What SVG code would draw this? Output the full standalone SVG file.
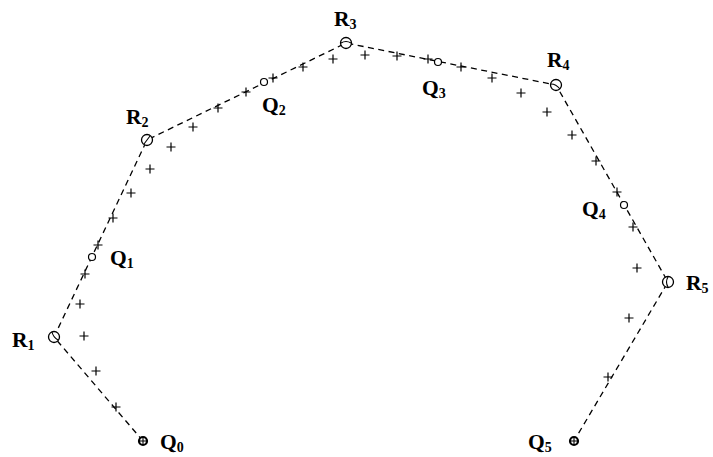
<svg xmlns="http://www.w3.org/2000/svg" width="713" height="457" viewBox="0 0 713 457">
<style>
  .conn { fill: none; stroke: #000; stroke-width: 1.3; stroke-dasharray: 6 4.5; }
  .rc { fill: #fff; stroke: #000; stroke-width: 1.3; }
  .qc { fill: #fff; stroke: #000; stroke-width: 1.2; }
  .ec { fill: #fff; stroke: #000; stroke-width: 2.2; }
  .in { fill: none; stroke: #000; stroke-width: 1.1; }
  .plus { stroke: #000; stroke-width: 1.2; fill: none; }
  .lbl { font-family: "Liberation Serif", "Times New Roman", serif; font-weight: bold; font-size: 21.5px; fill: #000; }
  .sub { font-size: 14px; }
</style>
<defs>
  <path id="p" class="plus" d="M-4.5,0H4.5M0,-4.5V4.5"/>
</defs>
<rect width="713" height="457" fill="#fff"/>
<g id="connectors">
  <polyline class="conn" points="143,441 54,337 147,140 346,43 556,85 668,282 574,441"/>
</g>
<g id="samples">
  <use href="#p" x="80" y="304"/><use href="#p" x="84" y="336"/><use href="#p" x="96" y="371"/><use href="#p" x="116" y="407"/>
  <use href="#p" x="85" y="274"/><use href="#p" x="98" y="245"/><use href="#p" x="113" y="218"/><use href="#p" x="131" y="193"/>
  <use href="#p" x="150" y="169"/><use href="#p" x="171" y="147"/><use href="#p" x="193" y="127"/><use href="#p" x="218" y="108"/>
  <use href="#p" x="246" y="92"/><use href="#p" x="273" y="78"/><use href="#p" x="303" y="67"/><use href="#p" x="333" y="59"/>
  <use href="#p" x="365" y="55"/><use href="#p" x="397" y="56"/><use href="#p" x="428" y="59"/><use href="#p" x="461" y="67"/>
  <use href="#p" x="492" y="78"/><use href="#p" x="521" y="93"/><use href="#p" x="547" y="112"/><use href="#p" x="572" y="135"/>
  <use href="#p" x="596" y="161"/><use href="#p" x="617" y="192"/><use href="#p" x="633" y="227"/><use href="#p" x="637" y="268"/>
  <use href="#p" x="629" y="318"/><use href="#p" x="608" y="377"/>
</g>
<g id="Q0">
  <circle class="ec" cx="143" cy="441" r="4"/>
  <path class="in" d="M139,441H147M143,437V445"/>
  <text class="lbl" x="160" y="449">Q<tspan class="sub" dy="3">0</tspan></text>
</g>
<g id="R1">
  <circle class="rc" cx="54" cy="337" r="5.5"/>
  <path class="in" d="M52,332Q53,337 58,340"/>
  <text class="lbl" x="12" y="347">R<tspan class="sub" dy="3">1</tspan></text>
</g>
<g id="Q1">
  <circle class="qc" cx="92" cy="257" r="3.5"/>
  <text class="lbl" x="110" y="265">Q<tspan class="sub" dy="3">1</tspan></text>
</g>
<g id="R2">
  <circle class="rc" cx="147" cy="140" r="5.5"/>
  <path class="in" d="M144,144L150,136"/>
  <text class="lbl" x="126" y="124">R<tspan class="sub" dy="3">2</tspan></text>
</g>
<g id="Q2">
  <circle class="qc" cx="264" cy="82" r="3.5"/>
  <text class="lbl" x="262" y="112">Q<tspan class="sub" dy="3">2</tspan></text>
</g>
<g id="R3">
  <circle class="rc" cx="346" cy="43" r="5.5"/>
  <path class="in" d="M341,43Q346,40 351,43"/>
  <text class="lbl" x="334" y="26">R<tspan class="sub" dy="3">3</tspan></text>
</g>
<g id="Q3">
  <circle class="qc" cx="438" cy="62" r="3.5"/>
  <text class="lbl" x="422" y="95">Q<tspan class="sub" dy="3">3</tspan></text>
</g>
<g id="R4">
  <circle class="rc" cx="556" cy="85" r="5.5"/>
  <path class="in" d="M551,84Q556,84 560,89"/>
  <text class="lbl" x="547" y="67">R<tspan class="sub" dy="3">4</tspan></text>
</g>
<g id="Q4">
  <circle class="qc" cx="624" cy="205" r="3.5"/>
  <text class="lbl" x="582" y="216">Q<tspan class="sub" dy="3">4</tspan></text>
</g>
<g id="R5">
  <circle class="rc" cx="668" cy="282" r="5.5"/>
  <path class="in" d="M668,277Q665,282 668,287"/>
  <text class="lbl" x="686" y="290">R<tspan class="sub" dy="3">5</tspan></text>
</g>
<g id="Q5">
  <circle class="ec" cx="574" cy="441" r="4"/>
  <path class="in" d="M570,441H578M574,437V445"/>
  <text class="lbl" x="528" y="449">Q<tspan class="sub" dy="3">5</tspan></text>
</g>
</svg>
